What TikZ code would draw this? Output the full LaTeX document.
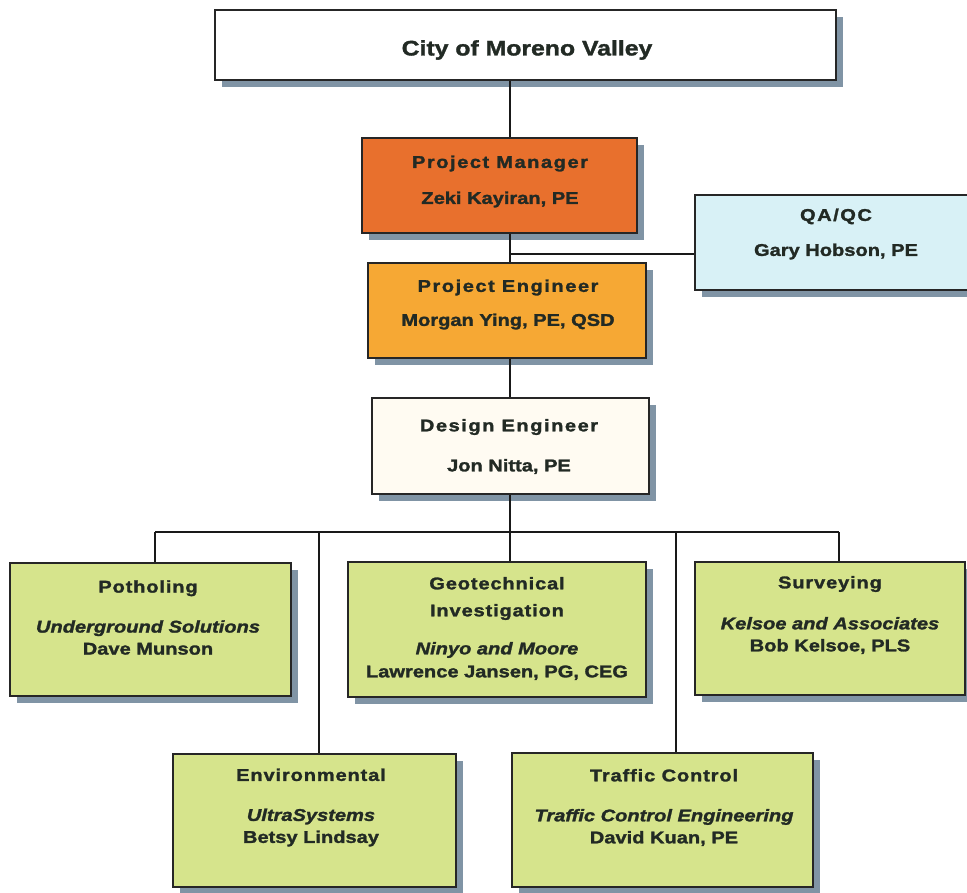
\documentclass[tikz,border=0pt]{standalone}
\usepackage{fontspec}
\setmainfont{Liberation Sans}
\newfontfamily\bodyf[FakeStretch=1.18,FakeBold=1.6]{Liberation Sans}
\newfontfamily\headf[FakeStretch=1.18,FakeBold=1.6,LetterSpace=9]{Liberation Sans}
\newfontfamily\greenhf[FakeStretch=1.18,FakeBold=1.6,LetterSpace=5]{Liberation Sans}
\usetikzlibrary{shadows}
\definecolor{ink}{RGB}{34,42,36}
\definecolor{shadowc}{RGB}{128,148,165}
\definecolor{pmorange}{RGB}{232,112,45}
\definecolor{peorange}{RGB}{246,168,52}
\definecolor{qacyan}{RGB}{216,241,246}
\definecolor{decream}{RGB}{255,251,242}
\definecolor{subgreen}{RGB}{214,228,140}
\tikzset{
  orgbox/.style={draw=black!85, line width=1.3pt, inner sep=0pt,
    drop shadow={shadow xshift=7pt, shadow yshift=-7pt, fill=shadowc, opacity=1}},
  lbl/.style={text=ink, align=center, inner sep=0pt,
    font=\bodyf\bfseries\fontsize{17}{20}\selectfont},
  conn/.style={draw=black!90, line width=1.3pt},
}
\begin{document}
\begin{tikzpicture}[x=1pt,y=-1pt]
\useasboundingbox (0,0) rectangle (967,893);
% connector anchors
\coordinate (spine) at (510,0);
\coordinate (qaj) at (510,254);
\coordinate (busL) at (155,532);
\coordinate (busR) at (839,532);
\coordinate (envx) at (319,532);
\coordinate (trax) at (676,532);
% boxes
\node[orgbox, fill=white, minimum width=621pt, minimum height=70pt] (city) at (525.5,45) {};
\node[orgbox, fill=pmorange, minimum width=275pt, minimum height=95pt] (pm) at (499.5,185.5) {};
\node[orgbox, fill=peorange, minimum width=278pt, minimum height=95pt] (pe) at (507,310.5) {};
\node[orgbox, fill=qacyan, minimum width=285pt, minimum height=95pt] (qa) at (837.5,242.5) {};
\node[orgbox, fill=decream, minimum width=277pt, minimum height=96pt] (de) at (510.5,446) {};
\node[orgbox, fill=subgreen, minimum width=281pt, minimum height=133pt] (pot) at (150.5,629.5) {};
\node[orgbox, fill=subgreen, minimum width=298pt, minimum height=135pt] (geo) at (497,629.5) {};
\node[orgbox, fill=subgreen, minimum width=270pt, minimum height=133pt] (sur) at (830,628.5) {};
\node[orgbox, fill=subgreen, minimum width=283pt, minimum height=133pt] (env) at (314.5,820.5) {};
\node[orgbox, fill=subgreen, minimum width=301pt, minimum height=134pt] (tra) at (662.5,820) {};
% connectors
\draw[conn] (city.south -| spine) -- (pm.north -| spine);
\draw[conn] (pm.south -| spine) -- (pe.north -| spine);
\draw[conn] (qaj) -- (qaj -| qa.west);
\draw[conn] (pe.south -| spine) -- (de.north -| spine);
\draw[conn] (de.south -| spine) -- (busL -| spine);
\draw[conn] (busL) -- (busR);
\draw[conn] (busL) -- (pot.north -| busL);
\draw[conn] (envx) -- (env.north -| envx);
\draw[conn] (busL -| spine) -- (geo.north -| spine);
\draw[conn] (trax) -- (tra.north -| trax);
\draw[conn] (busR) -- (sur.north -| busR);
% texts
\node[lbl, font=\bodyf\bfseries\fontsize{21}{24}\selectfont] (cityt) at (527,50) {City of Moreno Valley};
\node[lbl] (pmt) at (500,181.5) {{\headf\bfseries Project Manager}\\[16pt]Zeki Kayiran, PE};
\node[lbl] (pet) at (508,304.5) {{\headf\bfseries Project Engineer}\\[14pt]Morgan Ying, PE, QSD};
\node[lbl] (qat) at (836,234) {{\headf\bfseries QA/QC}\\[15pt]Gary Hobson, PE};
\node[lbl] (det) at (509,446.5) {{\headf\bfseries Design Engineer}\\[20pt]Jon Nitta, PE};
\node[lbl] (pott) at (148,617.5) {{\greenhf\bfseries Potholing}\\[20pt]{\itshape Underground Solutions}\\[2pt]Dave Munson};
\node[lbl] (geot) at (497,628.5) {{\greenhf\bfseries Geotechnical}\\[7pt]{\greenhf\bfseries Investigation}\\[18pt]{\itshape Ninyo and Moore}\\[3pt]Lawrence Jansen, PG, CEG};
\node[lbl] (surt) at (830,615) {{\greenhf\bfseries Surveying}\\[21pt]{\itshape Kelsoe and Associates}\\[2pt]Bob Kelsoe, PLS};
\node[lbl] (envt) at (311,807.5) {{\greenhf\bfseries Environmental}\\[20pt]{\itshape UltraSystems}\\[2pt]Betsy Lindsay};
\node[lbl] (trat) at (664,807.5) {{\greenhf\bfseries Traffic Control}\\[20pt]{\itshape Traffic Control Engineering}\\[2pt]David Kuan, PE};
\end{tikzpicture}
\end{document}
